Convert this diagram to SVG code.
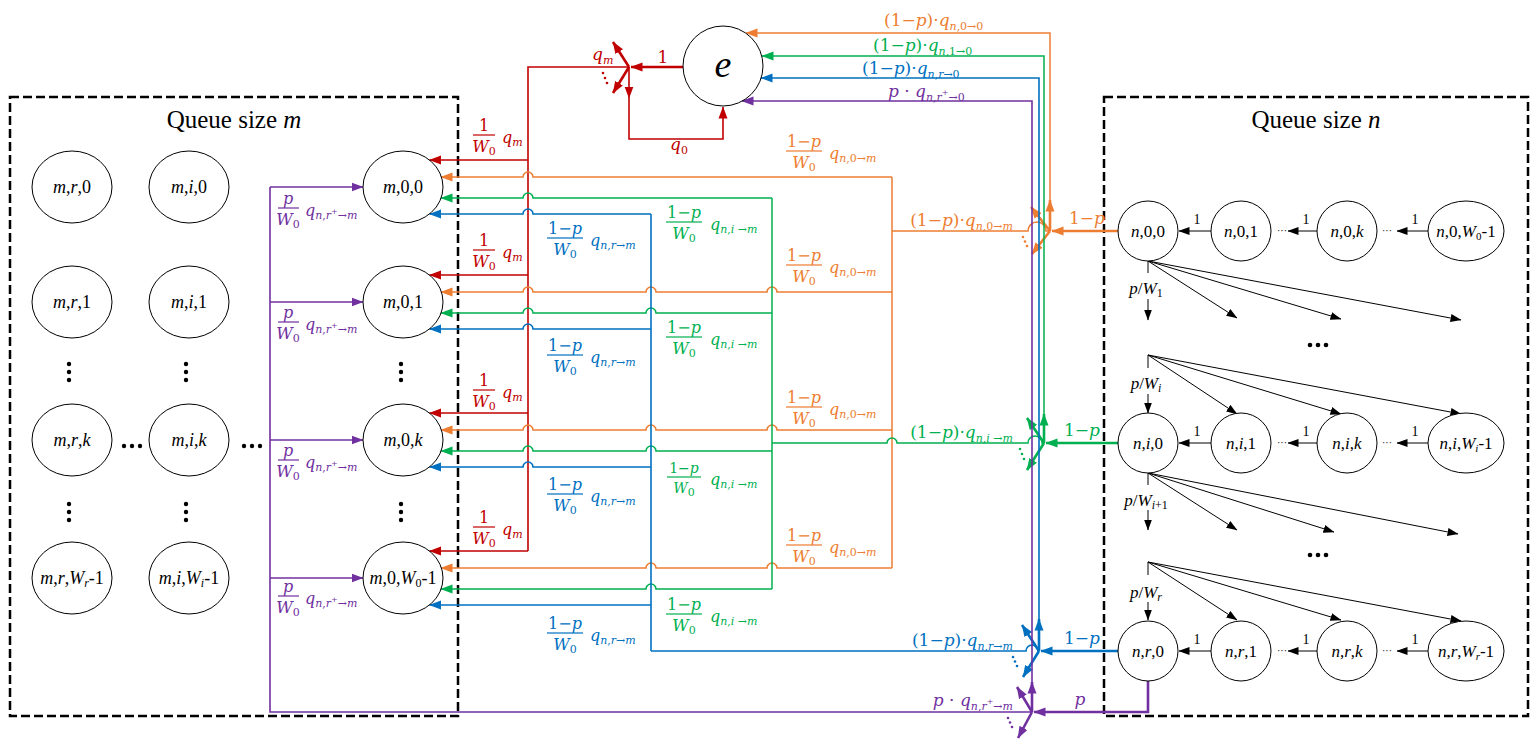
<svg xmlns="http://www.w3.org/2000/svg" width="1539" height="749" viewBox="0 0 1539 749">
<style>
.bx{fill:none;stroke:#000;stroke-width:2.5;stroke-dasharray:9 4}
.nd{fill:#fff;stroke:#000;stroke-width:1}
.nl{font-family:"Liberation Serif","Times New Roman",serif;font-size:18px;fill:#000}
.nr{font-family:"Liberation Serif","Times New Roman",serif;font-size:17px;fill:#000}
.ttl{font-family:"Liberation Serif","Times New Roman",serif;font-size:25px;fill:#000}
.mt{font-family:"DejaVu Serif",serif;font-size:16px}
.big{font-family:"DejaVu Serif",serif;font-size:17px}
.s{font-size:11px}
.i{font-style:italic}
.cR{fill:#C00000}.cO{fill:#ED7D31}.cG{fill:#00B050}.cB{fill:#0070C0}.cP{fill:#7030A0}
.lR{stroke:#C00000;fill:none;stroke-width:1.6}
.lO{stroke:#ED7D31;fill:none;stroke-width:1.5}
.lG{stroke:#00B050;fill:none;stroke-width:1.5}
.lB{stroke:#0070C0;fill:none;stroke-width:1.6}
.lP{stroke:#7030A0;fill:none;stroke-width:1.6}
.th{stroke-width:2.6}
.lK{stroke:#000;fill:none;stroke-width:1}
.dot{fill:#000}
.one{font-family:"Liberation Serif","Times New Roman",serif;font-size:14px;fill:#000}
.ell{font-family:"Liberation Serif","Times New Roman",serif;font-size:10px;fill:#000}
</style>
<defs>
<marker id="aR" markerUnits="userSpaceOnUse" markerWidth="12" markerHeight="10" refX="11.5" refY="5" orient="auto"><path d="M0,0.5 L12,5 L0,9.5 z" fill="#C00000"/></marker>
<marker id="aO" markerUnits="userSpaceOnUse" markerWidth="12" markerHeight="10" refX="11.5" refY="5" orient="auto"><path d="M0,0.5 L12,5 L0,9.5 z" fill="#ED7D31"/></marker>
<marker id="aG" markerUnits="userSpaceOnUse" markerWidth="12" markerHeight="10" refX="11.5" refY="5" orient="auto"><path d="M0,0.5 L12,5 L0,9.5 z" fill="#00B050"/></marker>
<marker id="aB" markerUnits="userSpaceOnUse" markerWidth="12" markerHeight="10" refX="11.5" refY="5" orient="auto"><path d="M0,0.5 L12,5 L0,9.5 z" fill="#0070C0"/></marker>
<marker id="aP" markerUnits="userSpaceOnUse" markerWidth="12" markerHeight="10" refX="11.5" refY="5" orient="auto"><path d="M0,0.5 L12,5 L0,9.5 z" fill="#7030A0"/></marker>
<marker id="aK" markerUnits="userSpaceOnUse" markerWidth="11" markerHeight="9" refX="10.5" refY="4.5" orient="auto"><path d="M0,0.5 L11,4.5 L0,8.5 z" fill="#000"/></marker>
</defs>
<rect width="1539" height="749" fill="#fff"/>

<!-- boxes -->
<g id="box-m"><rect class="bx" x="10" y="97" width="448" height="619"/>
<text class="ttl" x="234" y="128" text-anchor="middle">Queue size <tspan class="i">m</tspan></text></g>
<g id="box-n"><rect class="bx" x="1104" y="97" width="424" height="619"/>
<text class="ttl" x="1316" y="128" text-anchor="middle">Queue size <tspan class="i">n</tspan></text></g>

<g id="connectors">
<!-- red -->
<path class="lR" d="M629,67 L528,67 L528,551"/>
<path class="lR" d="M528,160 L429.5,160" marker-end="url(#aR)"/>
<path class="lR" d="M528,275 L429.5,275" marker-end="url(#aR)"/>
<path class="lR" d="M528,413 L429.5,413" marker-end="url(#aR)"/>
<path class="lR" d="M528,551 L429.5,551" marker-end="url(#aR)"/>
<path class="lR th" d="M683,67 L631,67" marker-end="url(#aR)"/>
<path class="lR th" d="M629,67 L613,42" marker-end="url(#aR)"/>
<path class="lR th" d="M629,67 L613,93" marker-end="url(#aR)"/>
<path class="lR" d="M629,67 L629,98" marker-end="url(#aR)"/>
<path class="lR" d="M629,98 L629,139 L723,139 L723,107" marker-end="url(#aR)"/>
<circle class="cR" cx="603" cy="73" r="1.3"/><circle class="cR" cx="605" cy="78" r="1.3"/><circle class="cR" cx="607" cy="83" r="1.3"/>

<!-- orange -->
<path class="lO" d="M892,177 L892,568"/>
<path class="lO" d="M1050,231 L1046,231 A9,9 0 0 0 1028,231 L892,231"/>
<path class="lO" d="M1050,231 L1050,33 L746,33" marker-end="url(#aO)"/>
<path class="lO" d="M892,177 L533,177 A5,5 0 0 0 523,177 L441,177" marker-end="url(#aO)"/>
<path class="lO" d="M892,292 L777,292 A5,5 0 0 0 767,292 L656,292 A5,5 0 0 0 646,292 L533,292 A5,5 0 0 0 523,292 L441,292" marker-end="url(#aO)"/>
<path class="lO" d="M892,430 L777,430 A5,5 0 0 0 767,430 L656,430 A5,5 0 0 0 646,430 L533,430 A5,5 0 0 0 523,430 L441,430" marker-end="url(#aO)"/>
<path class="lO" d="M892,568 L777,568 A5,5 0 0 0 767,568 L656,568 A5,5 0 0 0 646,568 L441,568" marker-end="url(#aO)"/>
<path class="lO th" d="M1118,231 L1052,231" marker-end="url(#aO)"/>
<path class="lO th" d="M1050,231 L1050,200" marker-end="url(#aO)"/>
<path class="lO th" d="M1050,231 L1031,207" marker-end="url(#aO)"/>
<path class="lO th" d="M1050,231 L1032,254" marker-end="url(#aO)"/>
<circle class="cO" cx="1023" cy="237" r="1.3"/><circle class="cO" cx="1025" cy="241.5" r="1.3"/><circle class="cO" cx="1027" cy="246" r="1.3"/>

<!-- green -->
<path class="lG" d="M772,198 L772,589"/>
<path class="lG" d="M1044,443 L1042,443 A7,7 0 0 0 1028,443 L897,443 A5,5 0 0 0 887,443 L772,443" stroke-width="2.2"/>
<path class="lG" d="M1044,443 L1044,56 L762,56" marker-end="url(#aG)"/>
<path class="lG" d="M772,198 L533,198 A5,5 0 0 0 523,198 L441,198" marker-end="url(#aG)"/>
<path class="lG" d="M772,313 L656,313 A5,5 0 0 0 646,313 L533,313 A5,5 0 0 0 523,313 L441,313" marker-end="url(#aG)"/>
<path class="lG" d="M772,451 L656,451 A5,5 0 0 0 646,451 L533,451 A5,5 0 0 0 523,451 L441,451" marker-end="url(#aG)"/>
<path class="lG" d="M772,589 L656,589 A5,5 0 0 0 646,589 L441,589" marker-end="url(#aG)"/>
<path class="lG th" d="M1118,443 L1046,443" marker-end="url(#aG)"/>
<path class="lG th" d="M1044,443 L1044,414" marker-end="url(#aG)"/>
<path class="lG th" d="M1044,443 L1027,418" marker-end="url(#aG)"/>
<path class="lG th" d="M1044,443 L1027,470" marker-end="url(#aG)"/>
<circle class="cG" cx="1020" cy="449" r="1.3"/><circle class="cG" cx="1022" cy="454" r="1.3"/><circle class="cG" cx="1024" cy="459" r="1.3"/>

<!-- blue -->
<path class="lB" d="M651,214 L651,651"/>
<path class="lB" d="M1039,651 L1038,651 A6,6 0 0 0 1026,651 L651,651"/>
<path class="lB" d="M1039,651 L1039,78 L761,78" marker-end="url(#aB)"/>
<path class="lB" d="M651,214 L533,214 A5,5 0 0 0 523,214 L429.5,214" marker-end="url(#aB)"/>
<path class="lB" d="M651,329 L533,329 A5,5 0 0 0 523,329 L429.5,329" marker-end="url(#aB)"/>
<path class="lB" d="M651,467 L533,467 A5,5 0 0 0 523,467 L429.5,467" marker-end="url(#aB)"/>
<path class="lB" d="M651,605 L429.5,605" marker-end="url(#aB)"/>
<path class="lB th" d="M1118,651 L1041,651" marker-end="url(#aB)"/>
<path class="lB th" d="M1039,651 L1039,619" marker-end="url(#aB)"/>
<path class="lB th" d="M1039,651 L1022,625" marker-end="url(#aB)"/>
<path class="lB th" d="M1039,651 L1023,677" marker-end="url(#aB)"/>
<circle class="cB" cx="1013" cy="657" r="1.3"/><circle class="cB" cx="1015" cy="661.5" r="1.3"/><circle class="cB" cx="1017" cy="666" r="1.3"/>

<!-- purple -->
<path class="lP" d="M1032,712 L270,712 L270,187"/>
<path class="lP" d="M1032,712 L1032,101 L742,101" marker-end="url(#aP)"/>
<path class="lP" d="M270,187 L363,187" marker-end="url(#aP)"/>
<path class="lP" d="M270,302 L363,302" marker-end="url(#aP)"/>
<path class="lP" d="M270,440 L363,440" marker-end="url(#aP)"/>
<path class="lP" d="M270,578 L363,578" marker-end="url(#aP)"/>
<path class="lP th" d="M1148,681 L1148,712 L1034,712" marker-end="url(#aP)"/>
<path class="lP th" d="M1032,712 L1032,682" marker-end="url(#aP)"/>
<path class="lP th" d="M1032,712 L1017,687" marker-end="url(#aP)"/>
<path class="lP th" d="M1032,712 L1018,738" marker-end="url(#aP)"/>
<circle class="cP" cx="1008" cy="718" r="1.3"/><circle class="cP" cx="1010" cy="722.5" r="1.3"/><circle class="cP" cx="1012" cy="727" r="1.3"/>

<!-- black chains -->
<path class="lK" d="M1211,231 L1179,231" marker-end="url(#aK)"/>
<path class="lK" d="M1317,231 L1288,231" marker-end="url(#aK)"/>
<path class="lK" d="M1428,231 L1397,231" marker-end="url(#aK)"/>
<path class="lK" d="M1211,443 L1179,443" marker-end="url(#aK)"/>
<path class="lK" d="M1317,443 L1288,443" marker-end="url(#aK)"/>
<path class="lK" d="M1428,443 L1397,443" marker-end="url(#aK)"/>
<path class="lK" d="M1211,651 L1179,651" marker-end="url(#aK)"/>
<path class="lK" d="M1317,651 L1288,651" marker-end="url(#aK)"/>
<path class="lK" d="M1428,651 L1397,651" marker-end="url(#aK)"/>
<!-- fans -->
<path class="lK" d="M1148,261 L1148,273"/>
<path class="lK" d="M1148,299 L1148,320" marker-end="url(#aK)"/>
<path class="lK" d="M1148,261 L1237,318" marker-end="url(#aK)"/>
<path class="lK" d="M1148,261 L1341,319" marker-end="url(#aK)"/>
<path class="lK" d="M1148,261 L1461,320" marker-end="url(#aK)"/>
<path class="lK" d="M1148,355 L1148,368"/>
<path class="lK" d="M1148,394 L1148,413" marker-end="url(#aK)"/>
<path class="lK" d="M1148,355 L1237,414" marker-end="url(#aK)"/>
<path class="lK" d="M1148,355 L1341,414" marker-end="url(#aK)"/>
<path class="lK" d="M1148,355 L1461,414" marker-end="url(#aK)"/>
<path class="lK" d="M1148,473 L1148,485"/>
<path class="lK" d="M1148,510 L1148,530" marker-end="url(#aK)"/>
<path class="lK" d="M1148,473 L1237,530" marker-end="url(#aK)"/>
<path class="lK" d="M1148,473 L1334,532" marker-end="url(#aK)"/>
<path class="lK" d="M1148,473 L1458,534" marker-end="url(#aK)"/>
<path class="lK" d="M1148,562 L1148,575"/>
<path class="lK" d="M1148,602 L1148,620" marker-end="url(#aK)"/>
<path class="lK" d="M1148,562 L1237,620" marker-end="url(#aK)"/>
<path class="lK" d="M1148,562 L1341,620" marker-end="url(#aK)"/>
<path class="lK" d="M1148,562 L1461,621" marker-end="url(#aK)"/>
</g>

<g id="labels">
<!-- top labels -->
<text class="big cO" x="884" y="26">(1−<tspan class="i">p</tspan>)·<tspan class="i">q</tspan><tspan class="s i" dy="4">n</tspan><tspan class="s">,0→0</tspan></text>
<text class="big cG" x="873" y="51">(1−<tspan class="i">p</tspan>)·<tspan class="i">q</tspan><tspan class="s i" dy="4">n</tspan><tspan class="s">,1→0</tspan></text>
<text class="big cB" x="862" y="74">(1−<tspan class="i">p</tspan>)·<tspan class="i">q</tspan><tspan class="s i" dy="4">n</tspan><tspan class="s">,</tspan><tspan class="s i">r</tspan><tspan class="s">→0</tspan></text>
<text class="big cP" x="888" y="97"><tspan class="i">p</tspan> · <tspan class="i">q</tspan><tspan class="s i" dy="4">n</tspan><tspan class="s">,</tspan><tspan class="s i">r</tspan><tspan style="font-size:8px" dy="-6">+</tspan><tspan class="s" dy="6">→0</tspan></text>
<!-- red junction labels -->
<text class="big cR" x="663" y="63" text-anchor="middle">1</text>
<text class="big cR" x="592" y="60"><tspan class="i">q</tspan><tspan class="s i" dy="4">m</tspan></text>
<text class="big cR" x="670" y="150"><tspan class="i">q</tspan><tspan class="s" dy="4">0</tspan></text>
<!-- junction labels right -->
<text class="big cO" x="1013" y="226" text-anchor="end">(1−<tspan class="i">p</tspan>)·<tspan class="i">q</tspan><tspan class="s i" dy="4">n</tspan><tspan class="s">,0→</tspan><tspan class="s i">m</tspan></text>
<text class="big cO" x="1087" y="224" text-anchor="middle">1−<tspan class="i">p</tspan></text>
<text class="big cG" x="1013" y="438" text-anchor="end">(1−<tspan class="i">p</tspan>)·<tspan class="i">q</tspan><tspan class="s i" dy="4">n</tspan><tspan class="s">,</tspan><tspan class="s i">i</tspan><tspan class="s"> →</tspan><tspan class="s i">m</tspan></text>
<text class="big cG" x="1082" y="436" text-anchor="middle">1−<tspan class="i">p</tspan></text>
<text class="big cB" x="1013" y="646" text-anchor="end">(1−<tspan class="i">p</tspan>)·<tspan class="i">q</tspan><tspan class="s i" dy="4">n</tspan><tspan class="s">,</tspan><tspan class="s i">r</tspan><tspan class="s">→</tspan><tspan class="s i">m</tspan></text>
<text class="big cB" x="1082" y="644" text-anchor="middle">1−<tspan class="i">p</tspan></text>
<text class="big cP" x="1013" y="706" text-anchor="end"><tspan class="i">p</tspan> · <tspan class="i">q</tspan><tspan class="s i" dy="4">n</tspan><tspan class="s">,</tspan><tspan class="s i">r</tspan><tspan style="font-size:8px" dy="-6">+</tspan><tspan class="s" dy="6">→</tspan><tspan class="s i">m</tspan></text>
<text class="big cP" x="1080" y="705" text-anchor="middle"><tspan class="i">p</tspan></text>

<!-- red fraction labels -->
<g class="cR">
<text class="mt" x="484" y="131" text-anchor="middle">1</text><rect x="473" y="134.4" width="22" height="1.2"/><text class="mt" x="484" y="152" text-anchor="middle"><tspan class="i">W</tspan><tspan class="s" dy="3">0</tspan></text><text class="mt" x="502" y="143"><tspan class="i">q</tspan><tspan class="s i" dy="3">m</tspan></text>
<text class="mt" x="484" y="246" text-anchor="middle">1</text><rect x="473" y="249.4" width="22" height="1.2"/><text class="mt" x="484" y="267" text-anchor="middle"><tspan class="i">W</tspan><tspan class="s" dy="3">0</tspan></text><text class="mt" x="502" y="258"><tspan class="i">q</tspan><tspan class="s i" dy="3">m</tspan></text>
<text class="mt" x="484" y="386" text-anchor="middle">1</text><rect x="473" y="389.4" width="22" height="1.2"/><text class="mt" x="484" y="407" text-anchor="middle"><tspan class="i">W</tspan><tspan class="s" dy="3">0</tspan></text><text class="mt" x="502" y="398"><tspan class="i">q</tspan><tspan class="s i" dy="3">m</tspan></text>
<text class="mt" x="484" y="523" text-anchor="middle">1</text><rect x="473" y="526.4" width="22" height="1.2"/><text class="mt" x="484" y="544" text-anchor="middle"><tspan class="i">W</tspan><tspan class="s" dy="3">0</tspan></text><text class="mt" x="502" y="535"><tspan class="i">q</tspan><tspan class="s i" dy="3">m</tspan></text>
</g>
<!-- orange fraction labels -->
<g class="cO">
<text class="mt" x="804" y="147" text-anchor="middle">1−<tspan class="i">p</tspan></text><rect x="786" y="150.4" width="36" height="1.2"/><text class="mt" x="804" y="168" text-anchor="middle"><tspan class="i">W</tspan><tspan class="s" dy="3">0</tspan></text><text class="mt" x="829" y="159"><tspan class="i">q</tspan><tspan class="s i" dy="3">n</tspan><tspan class="s">,0→</tspan><tspan class="s i">m</tspan></text>
<text class="mt" x="804" y="261" text-anchor="middle">1−<tspan class="i">p</tspan></text><rect x="786" y="264.4" width="36" height="1.2"/><text class="mt" x="804" y="282" text-anchor="middle"><tspan class="i">W</tspan><tspan class="s" dy="3">0</tspan></text><text class="mt" x="829" y="273"><tspan class="i">q</tspan><tspan class="s i" dy="3">n</tspan><tspan class="s">,0→</tspan><tspan class="s i">m</tspan></text>
<text class="mt" x="804" y="403" text-anchor="middle">1−<tspan class="i">p</tspan></text><rect x="786" y="406.4" width="36" height="1.2"/><text class="mt" x="804" y="424" text-anchor="middle"><tspan class="i">W</tspan><tspan class="s" dy="3">0</tspan></text><text class="mt" x="829" y="415"><tspan class="i">q</tspan><tspan class="s i" dy="3">n</tspan><tspan class="s">,0→</tspan><tspan class="s i">m</tspan></text>
<text class="mt" x="804" y="541" text-anchor="middle">1−<tspan class="i">p</tspan></text><rect x="786" y="544.4" width="36" height="1.2"/><text class="mt" x="804" y="562" text-anchor="middle"><tspan class="i">W</tspan><tspan class="s" dy="3">0</tspan></text><text class="mt" x="829" y="553"><tspan class="i">q</tspan><tspan class="s i" dy="3">n</tspan><tspan class="s">,0→</tspan><tspan class="s i">m</tspan></text>
</g>
<!-- green fraction labels -->
<g class="cG">
<text class="mt" x="684" y="218" text-anchor="middle">1−<tspan class="i">p</tspan></text><rect x="666" y="221.4" width="36" height="1.2"/><text class="mt" x="684" y="239" text-anchor="middle"><tspan class="i">W</tspan><tspan class="s" dy="3">0</tspan></text><text class="mt" x="710" y="230"><tspan class="i">q</tspan><tspan class="s i" dy="3">n</tspan><tspan class="s">,</tspan><tspan class="s i">i</tspan><tspan class="s"> →</tspan><tspan class="s i">m</tspan></text>
<text class="mt" x="684" y="333" text-anchor="middle">1−<tspan class="i">p</tspan></text><rect x="666" y="336.4" width="36" height="1.2"/><text class="mt" x="684" y="354" text-anchor="middle"><tspan class="i">W</tspan><tspan class="s" dy="3">0</tspan></text><text class="mt" x="710" y="345"><tspan class="i">q</tspan><tspan class="s i" dy="3">n</tspan><tspan class="s">,</tspan><tspan class="s i">i</tspan><tspan class="s"> →</tspan><tspan class="s i">m</tspan></text>
<text class="mt" x="684" y="473" text-anchor="middle" style="font-size:14px">1−<tspan class="i">p</tspan></text><rect x="667" y="476.4" width="34" height="1.2"/><text class="mt" x="684" y="493" text-anchor="middle" style="font-size:14px"><tspan class="i">W</tspan><tspan class="s" dy="3">0</tspan></text><text class="mt" x="710" y="485"><tspan class="i">q</tspan><tspan class="s i" dy="3">n</tspan><tspan class="s">,</tspan><tspan class="s i">i</tspan><tspan class="s"> →</tspan><tspan class="s i">m</tspan></text>
<text class="mt" x="684" y="610" text-anchor="middle">1−<tspan class="i">p</tspan></text><rect x="666" y="613.4" width="36" height="1.2"/><text class="mt" x="684" y="631" text-anchor="middle"><tspan class="i">W</tspan><tspan class="s" dy="3">0</tspan></text><text class="mt" x="710" y="622"><tspan class="i">q</tspan><tspan class="s i" dy="3">n</tspan><tspan class="s">,</tspan><tspan class="s i">i</tspan><tspan class="s"> →</tspan><tspan class="s i">m</tspan></text>
</g>
<!-- blue fraction labels -->
<g class="cB">
<text class="mt" x="565" y="234" text-anchor="middle">1−<tspan class="i">p</tspan></text><rect x="547" y="237.4" width="36" height="1.2"/><text class="mt" x="565" y="255" text-anchor="middle"><tspan class="i">W</tspan><tspan class="s" dy="3">0</tspan></text><text class="mt" x="590" y="246"><tspan class="i">q</tspan><tspan class="s i" dy="3">n</tspan><tspan class="s">,</tspan><tspan class="s i">r</tspan><tspan class="s">→</tspan><tspan class="s i">m</tspan></text>
<text class="mt" x="565" y="351" text-anchor="middle">1−<tspan class="i">p</tspan></text><rect x="547" y="354.4" width="36" height="1.2"/><text class="mt" x="565" y="372" text-anchor="middle"><tspan class="i">W</tspan><tspan class="s" dy="3">0</tspan></text><text class="mt" x="590" y="363"><tspan class="i">q</tspan><tspan class="s i" dy="3">n</tspan><tspan class="s">,</tspan><tspan class="s i">r</tspan><tspan class="s">→</tspan><tspan class="s i">m</tspan></text>
<text class="mt" x="565" y="490" text-anchor="middle">1−<tspan class="i">p</tspan></text><rect x="547" y="493.4" width="36" height="1.2"/><text class="mt" x="565" y="511" text-anchor="middle"><tspan class="i">W</tspan><tspan class="s" dy="3">0</tspan></text><text class="mt" x="590" y="502"><tspan class="i">q</tspan><tspan class="s i" dy="3">n</tspan><tspan class="s">,</tspan><tspan class="s i">r</tspan><tspan class="s">→</tspan><tspan class="s i">m</tspan></text>
<text class="mt" x="565" y="629" text-anchor="middle">1−<tspan class="i">p</tspan></text><rect x="547" y="632.4" width="36" height="1.2"/><text class="mt" x="565" y="650" text-anchor="middle"><tspan class="i">W</tspan><tspan class="s" dy="3">0</tspan></text><text class="mt" x="590" y="641"><tspan class="i">q</tspan><tspan class="s i" dy="3">n</tspan><tspan class="s">,</tspan><tspan class="s i">r</tspan><tspan class="s">→</tspan><tspan class="s i">m</tspan></text>
</g>
<!-- purple fraction labels -->
<g class="cP">
<text class="mt" x="288" y="204" text-anchor="middle"><tspan class="i">p</tspan></text><rect x="278" y="207.4" width="21" height="1.2"/><text class="mt" x="288" y="225" text-anchor="middle"><tspan class="i">W</tspan><tspan class="s" dy="3">0</tspan></text><text class="mt" x="305" y="216"><tspan class="i">q</tspan><tspan class="s i" dy="3">n</tspan><tspan class="s">,</tspan><tspan class="s i">r</tspan><tspan style="font-size:8px" dy="-5">+</tspan><tspan class="s" dy="5">→</tspan><tspan class="s i">m</tspan></text>
<text class="mt" x="288" y="318" text-anchor="middle"><tspan class="i">p</tspan></text><rect x="278" y="321.4" width="21" height="1.2"/><text class="mt" x="288" y="339" text-anchor="middle"><tspan class="i">W</tspan><tspan class="s" dy="3">0</tspan></text><text class="mt" x="305" y="330"><tspan class="i">q</tspan><tspan class="s i" dy="3">n</tspan><tspan class="s">,</tspan><tspan class="s i">r</tspan><tspan style="font-size:8px" dy="-5">+</tspan><tspan class="s" dy="5">→</tspan><tspan class="s i">m</tspan></text>
<text class="mt" x="288" y="456" text-anchor="middle"><tspan class="i">p</tspan></text><rect x="278" y="459.4" width="21" height="1.2"/><text class="mt" x="288" y="477" text-anchor="middle"><tspan class="i">W</tspan><tspan class="s" dy="3">0</tspan></text><text class="mt" x="305" y="468"><tspan class="i">q</tspan><tspan class="s i" dy="3">n</tspan><tspan class="s">,</tspan><tspan class="s i">r</tspan><tspan style="font-size:8px" dy="-5">+</tspan><tspan class="s" dy="5">→</tspan><tspan class="s i">m</tspan></text>
<text class="mt" x="288" y="592" text-anchor="middle"><tspan class="i">p</tspan></text><rect x="278" y="595.4" width="21" height="1.2"/><text class="mt" x="288" y="613" text-anchor="middle"><tspan class="i">W</tspan><tspan class="s" dy="3">0</tspan></text><text class="mt" x="305" y="604"><tspan class="i">q</tspan><tspan class="s i" dy="3">n</tspan><tspan class="s">,</tspan><tspan class="s i">r</tspan><tspan style="font-size:8px" dy="-5">+</tspan><tspan class="s" dy="5">→</tspan><tspan class="s i">m</tspan></text>
</g>
<!-- black labels right -->
<text class="one" x="1197" y="224" text-anchor="middle">1</text><text class="one" x="1306" y="224" text-anchor="middle">1</text><text class="one" x="1415" y="224" text-anchor="middle">1</text>
<text class="one" x="1197" y="436" text-anchor="middle">1</text><text class="one" x="1306" y="436" text-anchor="middle">1</text><text class="one" x="1415" y="436" text-anchor="middle">1</text>
<text class="one" x="1197" y="644" text-anchor="middle">1</text><text class="one" x="1306" y="644" text-anchor="middle">1</text><text class="one" x="1415" y="644" text-anchor="middle">1</text>
<text class="ell" x="1282" y="234" text-anchor="middle">···</text><text class="ell" x="1387" y="234" text-anchor="middle">···</text>
<text class="ell" x="1282" y="446" text-anchor="middle">···</text><text class="ell" x="1387" y="446" text-anchor="middle">···</text>
<text class="ell" x="1282" y="654" text-anchor="middle">···</text><text class="ell" x="1387" y="654" text-anchor="middle">···</text>
<text class="nr" x="1146" y="294" text-anchor="middle"><tspan class="i">p</tspan>/<tspan class="i">W</tspan><tspan style="font-size:12px" dy="3">1</tspan></text>
<text class="nr" x="1146" y="389" text-anchor="middle"><tspan class="i">p</tspan>/<tspan class="i">W</tspan><tspan style="font-size:12px" dy="3" class="i">i</tspan></text>
<text class="nr" x="1146" y="506" text-anchor="middle"><tspan class="i">p</tspan>/<tspan class="i">W</tspan><tspan style="font-size:12px" dy="3" class="i">i</tspan><tspan style="font-size:12px">+1</tspan></text>
<text class="nr" x="1146" y="598" text-anchor="middle"><tspan class="i">p</tspan>/<tspan class="i">W</tspan><tspan style="font-size:12px" dy="3" class="i">r</tspan></text>
</g>

<!-- dots -->
<g id="ellipsis">
<circle class="dot" cx="1310" cy="345" r="2.3"/><circle class="dot" cx="1318" cy="345" r="2.3"/><circle class="dot" cx="1326" cy="345" r="2.3"/>
<circle class="dot" cx="1310" cy="555" r="2.3"/><circle class="dot" cx="1318" cy="555" r="2.3"/><circle class="dot" cx="1326" cy="555" r="2.3"/>
<circle class="dot" cx="69" cy="364" r="2.2"/><circle class="dot" cx="69" cy="372" r="2.2"/><circle class="dot" cx="69" cy="380" r="2.2"/>
<circle class="dot" cx="186" cy="364" r="2.2"/><circle class="dot" cx="186" cy="372" r="2.2"/><circle class="dot" cx="186" cy="380" r="2.2"/>
<circle class="dot" cx="401" cy="364" r="2.2"/><circle class="dot" cx="401" cy="372" r="2.2"/><circle class="dot" cx="401" cy="380" r="2.2"/>
<circle class="dot" cx="69" cy="504" r="2.2"/><circle class="dot" cx="69" cy="512" r="2.2"/><circle class="dot" cx="69" cy="520" r="2.2"/>
<circle class="dot" cx="186" cy="504" r="2.2"/><circle class="dot" cx="186" cy="512" r="2.2"/><circle class="dot" cx="186" cy="520" r="2.2"/>
<circle class="dot" cx="401" cy="504" r="2.2"/><circle class="dot" cx="401" cy="512" r="2.2"/><circle class="dot" cx="401" cy="520" r="2.2"/>
<circle class="dot" cx="124" cy="446" r="2.2"/><circle class="dot" cx="132" cy="446" r="2.2"/><circle class="dot" cx="140" cy="446" r="2.2"/>
<circle class="dot" cx="244" cy="446" r="2.2"/><circle class="dot" cx="252" cy="446" r="2.2"/><circle class="dot" cx="260" cy="446" r="2.2"/>
</g>

<!-- nodes -->
<g id="e"><circle class="nd" cx="723" cy="66" r="40"/><text class="nl i" x="723" y="77" text-anchor="middle" style="font-size:38px">e</text></g>

<g id="m-r-0"><ellipse class="nd" cx="72" cy="187" rx="40" ry="36"/><text class="nl" x="72" y="193" text-anchor="middle"><tspan class="i">m</tspan>,<tspan class="i">r</tspan>,0</text></g>
<g id="m-i-0"><ellipse class="nd" cx="189" cy="187" rx="40" ry="36"/><text class="nl" x="189" y="193" text-anchor="middle"><tspan class="i">m</tspan>,<tspan class="i">i</tspan>,0</text></g>
<g id="m-0-0"><ellipse class="nd" cx="403" cy="187" rx="40" ry="36"/><text class="nl" x="403" y="193" text-anchor="middle"><tspan class="i">m</tspan>,0,0</text></g>
<g id="m-r-1"><ellipse class="nd" cx="72" cy="302" rx="40" ry="36"/><text class="nl" x="72" y="308" text-anchor="middle"><tspan class="i">m</tspan>,<tspan class="i">r</tspan>,1</text></g>
<g id="m-i-1"><ellipse class="nd" cx="189" cy="302" rx="40" ry="36"/><text class="nl" x="189" y="308" text-anchor="middle"><tspan class="i">m</tspan>,<tspan class="i">i</tspan>,1</text></g>
<g id="m-0-1"><ellipse class="nd" cx="403" cy="302" rx="40" ry="36"/><text class="nl" x="403" y="308" text-anchor="middle"><tspan class="i">m</tspan>,0,1</text></g>
<g id="m-r-k"><ellipse class="nd" cx="72" cy="440" rx="40" ry="36"/><text class="nl" x="72" y="446" text-anchor="middle"><tspan class="i">m</tspan>,<tspan class="i">r</tspan>,<tspan class="i">k</tspan></text></g>
<g id="m-i-k"><ellipse class="nd" cx="189" cy="440" rx="40" ry="36"/><text class="nl" x="189" y="446" text-anchor="middle"><tspan class="i">m</tspan>,<tspan class="i">i</tspan>,<tspan class="i">k</tspan></text></g>
<g id="m-0-k"><ellipse class="nd" cx="403" cy="440" rx="40" ry="36"/><text class="nl" x="403" y="446" text-anchor="middle"><tspan class="i">m</tspan>,0,<tspan class="i">k</tspan></text></g>
<g id="m-r-W"><ellipse class="nd" cx="72" cy="578" rx="40" ry="36"/><text class="nl" x="72" y="584" text-anchor="middle"><tspan class="i">m</tspan>,<tspan class="i">r</tspan>,<tspan class="i">W</tspan><tspan class="i" style="font-size:12px" dy="3">r</tspan><tspan dy="-3">-1</tspan></text></g>
<g id="m-i-W"><ellipse class="nd" cx="189" cy="578" rx="40" ry="36"/><text class="nl" x="189" y="584" text-anchor="middle"><tspan class="i">m</tspan>,<tspan class="i">i</tspan>,<tspan class="i">W</tspan><tspan class="i" style="font-size:12px" dy="3">i</tspan><tspan dy="-3">-1</tspan></text></g>
<g id="m-0-W"><ellipse class="nd" cx="403" cy="578" rx="40" ry="36"/><text class="nl" x="403" y="584" text-anchor="middle"><tspan class="i">m</tspan>,0,<tspan class="i">W</tspan><tspan style="font-size:12px" dy="3">0</tspan><tspan dy="-3">-1</tspan></text></g>

<g id="n-0-0"><circle class="nd" cx="1148" cy="231" r="30"/><text class="nr" x="1148" y="237" text-anchor="middle"><tspan class="i">n</tspan>,0,0</text></g>
<g id="n-0-1"><circle class="nd" cx="1241" cy="231" r="30"/><text class="nr" x="1241" y="237" text-anchor="middle"><tspan class="i">n</tspan>,0,1</text></g>
<g id="n-0-k"><circle class="nd" cx="1347" cy="231" r="30"/><text class="nr" x="1347" y="237" text-anchor="middle"><tspan class="i">n</tspan>,0,<tspan class="i">k</tspan></text></g>
<g id="n-0-W"><ellipse class="nd" cx="1466" cy="231" rx="38" ry="30"/><text class="nr" x="1466" y="237" text-anchor="middle"><tspan class="i">n</tspan>,0,<tspan class="i">W</tspan><tspan style="font-size:11px" dy="3">0</tspan><tspan dy="-3">-1</tspan></text></g>
<g id="n-i-0"><circle class="nd" cx="1148" cy="443" r="30"/><text class="nr" x="1148" y="449" text-anchor="middle"><tspan class="i">n</tspan>,<tspan class="i">i</tspan>,0</text></g>
<g id="n-i-1"><circle class="nd" cx="1241" cy="443" r="30"/><text class="nr" x="1241" y="449" text-anchor="middle"><tspan class="i">n</tspan>,<tspan class="i">i</tspan>,1</text></g>
<g id="n-i-k"><circle class="nd" cx="1347" cy="443" r="30"/><text class="nr" x="1347" y="449" text-anchor="middle"><tspan class="i">n</tspan>,<tspan class="i">i</tspan>,<tspan class="i">k</tspan></text></g>
<g id="n-i-W"><ellipse class="nd" cx="1466" cy="443" rx="38" ry="30"/><text class="nr" x="1466" y="449" text-anchor="middle"><tspan class="i">n</tspan>,<tspan class="i">i</tspan>,<tspan class="i">W</tspan><tspan class="i" style="font-size:11px" dy="3">i</tspan><tspan dy="-3">-1</tspan></text></g>
<g id="n-r-0"><circle class="nd" cx="1148" cy="651" r="30"/><text class="nr" x="1148" y="657" text-anchor="middle"><tspan class="i">n</tspan>,<tspan class="i">r</tspan>,0</text></g>
<g id="n-r-1"><circle class="nd" cx="1241" cy="651" r="30"/><text class="nr" x="1241" y="657" text-anchor="middle"><tspan class="i">n</tspan>,<tspan class="i">r</tspan>,1</text></g>
<g id="n-r-k"><circle class="nd" cx="1347" cy="651" r="30"/><text class="nr" x="1347" y="657" text-anchor="middle"><tspan class="i">n</tspan>,<tspan class="i">r</tspan>,<tspan class="i">k</tspan></text></g>
<g id="n-r-W"><ellipse class="nd" cx="1466" cy="651" rx="38" ry="30"/><text class="nr" x="1466" y="657" text-anchor="middle"><tspan class="i">n</tspan>,<tspan class="i">r</tspan>,<tspan class="i">W</tspan><tspan class="i" style="font-size:11px" dy="3">r</tspan><tspan dy="-3">-1</tspan></text></g>
</svg>
